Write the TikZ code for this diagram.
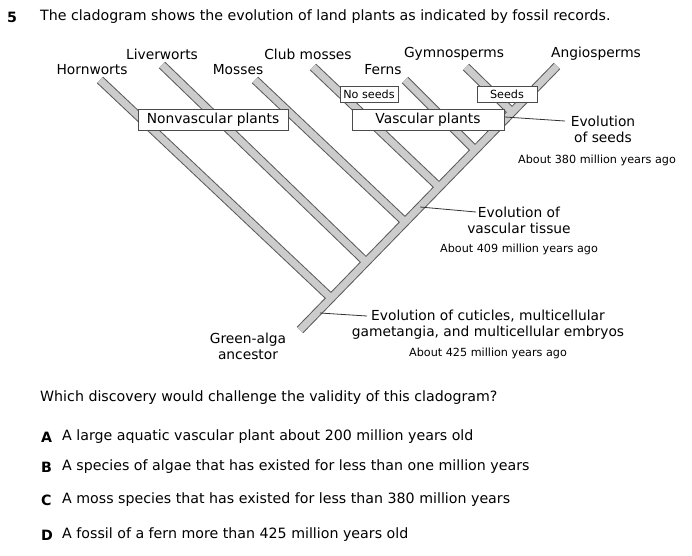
\documentclass[tikz,border=0pt]{standalone}
\usepackage{fontspec}
\setmainfont{DejaVu Sans}
\begin{document}
\begin{tikzpicture}[x=1pt,y=-1pt,
  lbl/.style={font=\fontsize{13.8}{16}\selectfont,inner sep=1pt},
  sm/.style={font=\fontsize{11.2}{13}\selectfont,inner sep=1pt},
  bx/.style={draw=black!70,fill=white,font=\fontsize{13.8}{16}\selectfont,inner sep=2pt,minimum height=21pt},
  sbx/.style={draw=black!70,fill=white,font=\fontsize{11.2}{13}\selectfont,inner sep=1.5pt,minimum height=16pt},
  q/.style={font=\fontsize{14.2}{16}\selectfont,anchor=west,inner sep=0pt},
  ptr/.style={draw=black!80,line width=0.8pt},
  brO/.style={line width=9pt,draw=black!65},
  brI/.style={line width=7pt,draw=black!20}]
\useasboundingbox (0,0) rectangle (692,555);
% coordinates
\coordinate (t0) at (300,330); \coordinate (t1) at (557,66);
\coordinate (jH) at (331,298); \coordinate (pH) at (100,80);
\coordinate (jL) at (366,262); \coordinate (pL) at (162,65);
\coordinate (jM) at (405,222); \coordinate (pM) at (255,80);
\coordinate (jC) at (439,187); \coordinate (pC) at (313,67);
\coordinate (jF) at (475,150); \coordinate (pF) at (405,80);
\coordinate (jG) at (512,112); \coordinate (pG) at (466,67);
\foreach \s in {brO,brI}{
  \draw[\s] (t0) -- (t1);
  \foreach \a in {H,L,M,C,F,G} \draw[\s] (j\a) -- (p\a);
}
% labels
\node[q,font=\fontsize{14.2}{16}\selectfont\bfseries] (num) at (7,17) {5};
\node[q] (title) at (40,17) {The cladogram shows the evolution of land plants as indicated by fossil records.};
\node[lbl] (lH) at (92,70) {Hornworts};
\node[lbl] (lL) at (162,54) {Liverworts};
\node[lbl] (lM) at (238,70) {Mosses};
\node[lbl] (lC) at (308,54) {Club mosses};
\node[lbl] (lF) at (383,70) {Ferns};
\node[lbl] (lG) at (454,54) {Gymnosperms};
\node[lbl] (lA) at (596,54) {Angiosperms};
\node[bx,minimum width=150pt] (nv) at (213,120) {Nonvascular plants};
\node[bx,minimum width=152pt] (vp) at (428,120) {Vascular plants};
\node[sbx,minimum width=58pt] (ns) at (369,94) {No seeds};
\node[sbx,minimum width=60pt] (sd) at (507,94) {Seeds};
% annotations
\node[lbl,align=center] (es) at (603,129) {Evolution\\of seeds};
\node[sm] (es2) at (597,160) {About 380 million years ago};
\coordinate (ces) at (505,117); \coordinate (des) at (565,121);
\draw[ptr] (ces) -- (des);
\node[lbl,align=center] (ev) at (519,220) {Evolution of\\vascular tissue};
\node[sm] (ev2) at (519,249) {About 409 million years ago};
\coordinate (cev) at (420,207); \coordinate (dev) at (476,212);
\draw[ptr] (cev) -- (dev);
\node[lbl,align=center] (ec) at (488,325) {Evolution of cuticles, multicellular\\gametangia, and multicellular embryos};
\node[sm] (ec2) at (488,353) {About 425 million years ago};
\coordinate (cec) at (320,313); \coordinate (dec) at (367,316);
\draw[ptr] (cec) -- (dec);
\node[lbl,align=center] (ga) at (248,346) {Green-alga\\ancestor};
% question
\node[q] (qq) at (40,398) {Which discovery would challenge the validity of this cladogram?};
\foreach \l/\t/\y in {A/A large aquatic vascular plant about 200 million years old/437,
  B/A species of algae that has existed for less than one million years/467,
  C/A moss species that has existed for less than 380 million years/500,
  D/A fossil of a fern more than 425 million years old/535}{
  \node[q,font=\fontsize{14.2}{16}\selectfont\bfseries] (o\l) at (41,\y) {\l};
  \node[q] (t\l) at (62,\y) {\t};
}
\end{tikzpicture}
\end{document}
